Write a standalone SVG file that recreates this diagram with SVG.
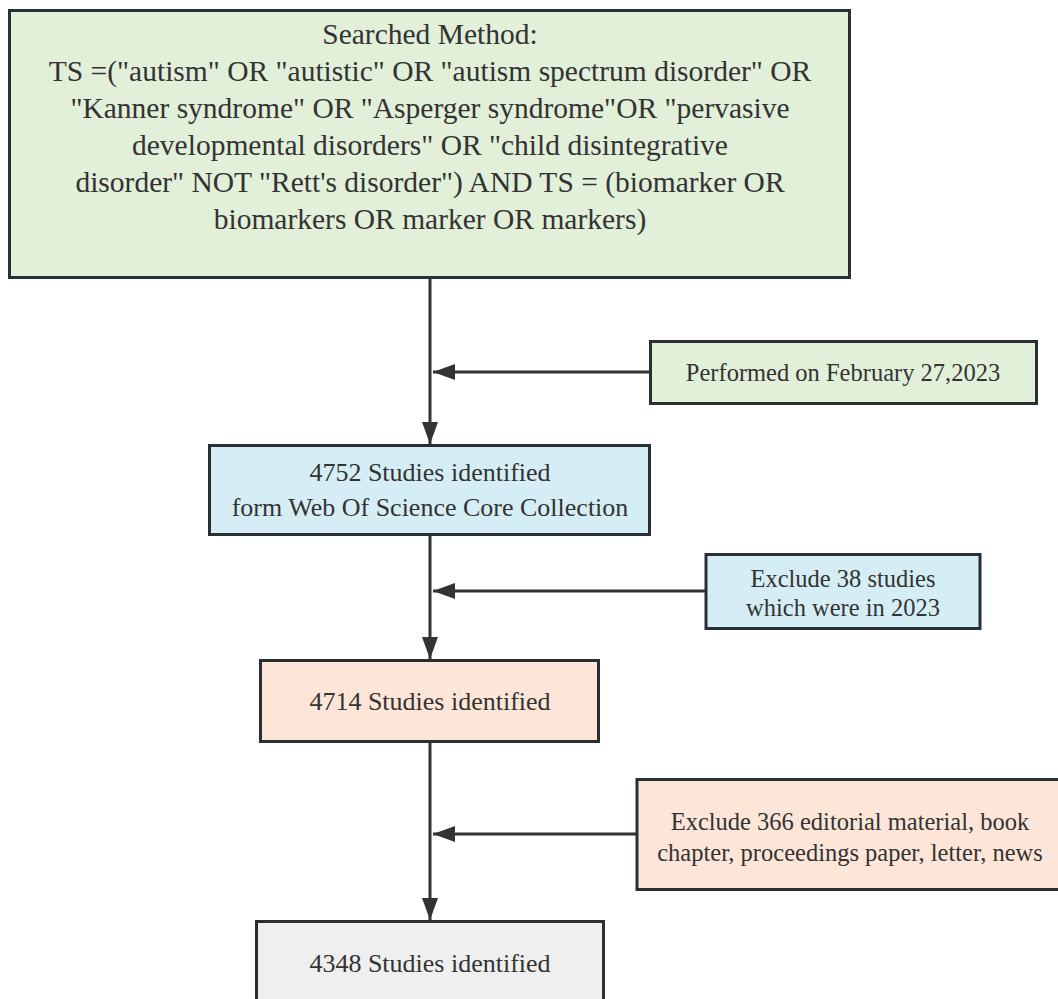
<svg xmlns="http://www.w3.org/2000/svg" width="1058" height="999" viewBox="0 0 1058 999">
<style>
.box{stroke:#2a2f33;stroke-width:3}
.green{fill:#e2efd9}
.blue{fill:#d5eef5}
.peach{fill:#fde6d7}
.gray{fill:#efefef}
.conn{stroke:#333;stroke-width:3;fill:none}
</style>
<defs>
<marker id="ah" markerUnits="userSpaceOnUse" markerWidth="24" markerHeight="18" refX="22" refY="8" orient="auto" viewBox="0 0 24 16">
<path d="M0,0 L22,8 L0,16 Z" fill="#333"/>
</marker>
</defs>
<g id="connectors">
<line class="conn" x1="430" y1="278" x2="430" y2="444" marker-end="url(#ah)"/>
<line class="conn" x1="430" y1="536" x2="430" y2="659" marker-end="url(#ah)"/>
<line class="conn" x1="430" y1="743" x2="430" y2="920" marker-end="url(#ah)"/>
<line class="conn" x1="650" y1="372" x2="433" y2="372" marker-end="url(#ah)"/>
<line class="conn" x1="706" y1="591" x2="433" y2="591" marker-end="url(#ah)"/>
<line class="conn" x1="637" y1="834" x2="433" y2="834" marker-end="url(#ah)"/>
</g>
<g id="search">
<rect class="box green" x="9.5" y="10.5" width="840" height="267"/>
<g font-family="Liberation Serif" font-size="29.5" fill="#333" text-anchor="middle">
<text x="430" y="44">Searched Method:</text>
<text x="430" y="81">TS =("autism" OR "autistic" OR "autism spectrum disorder" OR</text>
<text x="430" y="118">"Kanner syndrome" OR "Asperger syndrome"OR "pervasive</text>
<text x="430" y="155">developmental disorders" OR "child disintegrative</text>
<text x="430" y="192">disorder" NOT "Rett's disorder") AND TS = (biomarker OR</text>
<text x="430" y="229">biomarkers OR marker OR markers)</text>
</g>
</g>
<g id="performed">
<rect class="box green" x="650.5" y="341.5" width="386" height="62"/>
<text font-family="Liberation Serif" font-size="24.5" fill="#333" text-anchor="middle" x="843" y="381">Performed on February 27,2023</text>
</g>
<g id="identified4752">
<rect class="box blue" x="209.5" y="445.5" width="440" height="89"/>
<g font-family="Liberation Serif" font-size="26" fill="#333" text-anchor="middle">
<text x="430" y="481">4752 Studies identified</text>
<text x="430" y="516">form Web Of Science Core Collection</text>
</g>
</g>
<g id="exclude38">
<rect class="box blue" x="706" y="554.5" width="274" height="74"/>
<g font-family="Liberation Serif" font-size="24.5" fill="#333" text-anchor="middle">
<text x="843" y="587">Exclude 38 studies</text>
<text x="843" y="616">which were in 2023</text>
</g>
</g>
<g id="identified4714">
<rect class="box peach" x="260.5" y="660.5" width="338" height="81"/>
<text font-family="Liberation Serif" font-size="26" fill="#333" text-anchor="middle" x="430" y="710">4714 Studies identified</text>
</g>
<g id="exclude366">
<rect class="box peach" x="637" y="779.5" width="426" height="110"/>
<g font-family="Liberation Serif" font-size="24.5" fill="#333" text-anchor="middle">
<text x="850" y="830">Exclude 366 editorial material, book</text>
<text x="850" y="861">chapter, proceedings paper, letter, news</text>
</g>
</g>
<g id="identified4348">
<rect class="box gray" x="256.5" y="921.5" width="347" height="90"/>
<text font-family="Liberation Serif" font-size="26" fill="#333" text-anchor="middle" x="430" y="972">4348 Studies identified</text>
</g>
</svg>
